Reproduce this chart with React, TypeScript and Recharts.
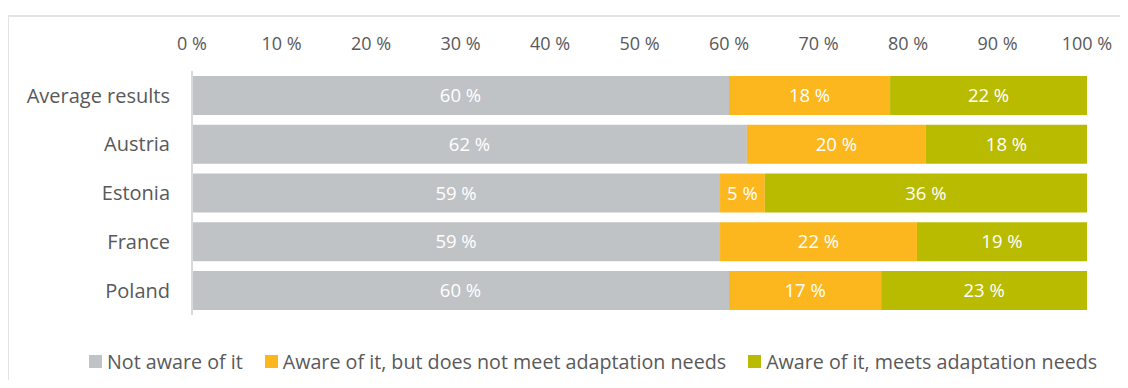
import { BarChart, Bar, XAxis, YAxis, LabelList } from 'recharts'

const countries = ['Average results', 'Austria', 'Estonia', 'France', 'Poland']
const notAware = [60, 62, 59, 59, 60]
const awareNotMeet = [18, 20, 5, 22, 17]
const awareMeets = [22, 18, 36, 19, 23]
const xTicks = [0, 10, 20, 30, 40, 50, 60, 70, 80, 90, 100]

const seriesNames = [
  'Not aware of it',
  'Aware of it, but does not meet adaptation needs',
  'Aware of it, meets adaptation needs',
]
const colors = ['#bfc3c6', '#fdb71e', '#b8bb00']

const data = countries.map((c, i) => ({
  name: c,
  notAware: notAware[i],
  awareNotMeet: awareNotMeet[i],
  awareMeets: awareMeets[i],
}))

const font = '"Open Sans", Lato, sans-serif'
const textColor = '#595959'

function ChartLegend() {
  return (
    <div
      style={{
        position: 'absolute',
        left: 89,
        top: 348,
        display: 'flex',
        alignItems: 'center',
        fontFamily: font,
        fontSize: 19.7,
        color: textColor,
        whiteSpace: 'nowrap',
      }}
    >
      {seriesNames.map((n, i) => (
        <div key={n} style={{ display: 'flex', alignItems: 'center', marginRight: 22 }}>
          <div style={{ width: 13, height: 13, background: colors[i], marginRight: 5 }} />
          <span>{n}</span>
        </div>
      ))}
    </div>
  )
}

export default function App() {
  const fmt = (v: number) => `${v} %`
  return (
    <div style={{ margin: -8, width: 1128, height: 388, position: 'relative', background: '#fff', overflow: 'hidden' }}>
      {/* frame of the chart area, runs off the right and bottom */}
      <div
        style={{
          position: 'absolute',
          left: 7,
          top: 15,
          width: 1140,
          height: 400,
          borderTop: '2px solid #e3e3e3',
          borderLeft: '2px solid #e3e3e3',
        }}
      />
      <div style={{ position: 'absolute', left: 0, top: 0 }}>
        <BarChart
          width={1128}
          height={388}
          data={data}
          layout="vertical"
          barCategoryGap="10%"
          margin={{ top: 41, right: 41, left: 0, bottom: 73 }}
        >
          <XAxis
            type="number"
            orientation="top"
            domain={[0, 100]}
            ticks={xTicks}
            tickFormatter={fmt}
            axisLine={false}
            tickLine={false}
            height={30}
            tickMargin={15}
            tick={{ fill: textColor, fontSize: 18, fontFamily: font }}
          />
          <YAxis
            type="category"
            dataKey="name"
            width={192}
            axisLine={{ stroke: '#d9d9d9', strokeWidth: 2 }}
            tickLine={false}
            tickMargin={16}
            tick={{ fill: textColor, fontSize: 20, fontFamily: font }}
          />
          <Bar dataKey="notAware" stackId="a" fill={colors[0]} name={seriesNames[0]} isAnimationActive={false}>
            <LabelList dataKey="notAware" position="center" formatter={fmt} fill="#fff" fontSize={18.5} fontFamily={font} />
          </Bar>
          <Bar dataKey="awareNotMeet" stackId="a" fill={colors[1]} name={seriesNames[1]} isAnimationActive={false}>
            <LabelList dataKey="awareNotMeet" position="center" formatter={fmt} fill="#fff" fontSize={18.5} fontFamily={font} />
          </Bar>
          <Bar dataKey="awareMeets" stackId="a" fill={colors[2]} name={seriesNames[2]} isAnimationActive={false}>
            <LabelList dataKey="awareMeets" position="center" formatter={fmt} fill="#fff" fontSize={18.5} fontFamily={font} />
          </Bar>
        </BarChart>
      </div>
      <ChartLegend />
    </div>
  )
}
